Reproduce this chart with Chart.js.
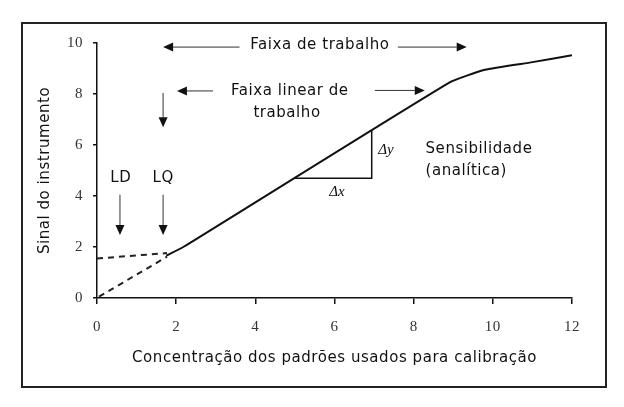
<!DOCTYPE html>
<html lang="pt">
<head>
    <meta charset="UTF-8">
    <title>Curva de calibração</title>
    <script src="https://cdn.jsdelivr.net/npm/chart.js"></script>
    <style>
        html, body { margin: 0; padding: 0; background: #fff; }
        #wrap { width: 624px; height: 407px; }
    </style>
</head>
<body>
    <div id="wrap"><canvas id="calCanvas" width="624" height="407"></canvas></div>

    <script>
        // curva de resposta do instrumento
        const curveX = [1.75, 2.2, 8.9, 9.8, 11.0, 12.0];
        const curveY = [1.66, 2.02, 8.45, 8.95, 9.25, 9.52];

        // extrapolações tracejadas (LD e LQ)
        const originX = [0.05, 1.77];
        const originY = [0.05, 1.62];
        const blankX = [0.0, 1.77];
        const blankY = [1.55, 1.76];

        // triângulo da sensibilidade
        const slopeX = [5.0, 6.94, 6.94];
        const slopeY = [4.7, 4.7, 6.55];

        const xTicks = [0, 2, 4, 6, 8, 10, 12];
        const yTicks = [0, 2, 4, 6, 8, 10];

        const toPoints = (xs, ys) => xs.map((x, i) => ({ x: x, y: ys[i] }));

        // setas e textos (coordenadas em unidades dos eixos)
        const arrows = [
            { from: [3.6, 9.84], to: [1.67, 9.84] },
            { from: [7.6, 9.84], to: [9.34, 9.84] },
            { from: [2.93, 8.12], to: [2.02, 8.12] },
            { from: [7.02, 8.14], to: [8.28, 8.14] },
            { from: [1.67, 8.04], to: [1.67, 6.7] },
            { from: [0.58, 4.05], to: [0.58, 2.47] },
            { from: [1.67, 4.05], to: [1.67, 2.47] }
        ];
        const labels = [
            { text: 'Faixa de trabalho', x: 5.63, y: 9.9, align: 'center' },
            { text: 'Faixa linear de', x: 4.87, y: 8.12, align: 'center' },
            { text: 'trabalho', x: 4.8, y: 7.25, align: 'center' },
            { text: 'LD', x: 0.6, y: 4.7, align: 'center' },
            { text: 'LQ', x: 1.67, y: 4.7, align: 'center' },
            { text: 'Sensibilidade', x: 8.3, y: 5.84, align: 'left' },
            { text: '(analítica)', x: 8.3, y: 4.98, align: 'left' }
        ];
        const deltas = [
            { text: 'Δx', x: 6.06, y: 4.16 },
            { text: 'Δy', x: 7.3, y: 5.8 }
        ];

        const sansFont = '"DejaVu Sans", Verdana, sans-serif';
        const serifFont = '"Liberation Serif", "Times New Roman", serif';
        const spacing = '0.55px';

        const framePlugin = {
            id: 'frame',
            beforeDraw(chart) {
                const ctx = chart.ctx;
                ctx.save();
                ctx.fillStyle = '#fff';
                ctx.fillRect(0, 0, chart.width, chart.height);
                ctx.strokeStyle = '#222';
                ctx.lineWidth = 2;
                ctx.strokeRect(22, 23, 584, 364);
                ctx.restore();
                ctx.letterSpacing = spacing; // texto um pouco espaçado, como no original
            }
        };

        const notesPlugin = {
            id: 'notes',
            afterDatasetsDraw(chart) {
                const ctx = chart.ctx;
                const xs = chart.scales.x, ys = chart.scales.y;
                ctx.save();
                ctx.strokeStyle = '#333';
                ctx.fillStyle = '#111';
                ctx.lineWidth = 1;
                arrows.forEach(a => {
                    const x1 = xs.getPixelForValue(a.from[0]), y1 = ys.getPixelForValue(a.from[1]);
                    const x2 = xs.getPixelForValue(a.to[0]), y2 = ys.getPixelForValue(a.to[1]);
                    const ang = Math.atan2(y2 - y1, x2 - x1);
                    const len = 10, half = 4.5;
                    ctx.beginPath();
                    ctx.moveTo(x1, y1);
                    ctx.lineTo(x2 - Math.cos(ang) * len, y2 - Math.sin(ang) * len);
                    ctx.stroke();
                    ctx.beginPath();
                    ctx.moveTo(x2, y2);
                    ctx.lineTo(x2 - Math.cos(ang) * len - Math.sin(ang) * half, y2 - Math.sin(ang) * len + Math.cos(ang) * half);
                    ctx.lineTo(x2 - Math.cos(ang) * len + Math.sin(ang) * half, y2 - Math.sin(ang) * len - Math.cos(ang) * half);
                    ctx.closePath();
                    ctx.fill();
                });

                ctx.fillStyle = '#111';
                ctx.textBaseline = 'middle';
                ctx.letterSpacing = spacing;
                ctx.font = '15px ' + sansFont;
                labels.forEach(l => {
                    ctx.textAlign = l.align;
                    ctx.fillText(l.text, xs.getPixelForValue(l.x), ys.getPixelForValue(l.y));
                });
                ctx.letterSpacing = '0px';
                ctx.font = 'italic 15px ' + serifFont;
                ctx.textAlign = 'center';
                deltas.forEach(d => {
                    ctx.fillText(d.text, xs.getPixelForValue(d.x), ys.getPixelForValue(d.y));
                });
                ctx.restore();
            }
        };

        const ctx = document.getElementById('calCanvas').getContext('2d');

        new Chart(ctx, {
            type: 'scatter',
            data: {
                datasets: [
                    {
                        label: 'Resposta',
                        data: toPoints(curveX, curveY),
                        showLine: true,
                        borderColor: '#111',
                        borderWidth: 2,
                        pointRadius: 0,
                        tension: 0.15
                    },
                    {
                        label: 'Extrapolação (origem)',
                        data: toPoints(originX, originY),
                        showLine: true,
                        borderColor: '#222',
                        borderWidth: 2,
                        borderDash: [6, 5],
                        pointRadius: 0
                    },
                    {
                        label: 'Extrapolação (branco)',
                        data: toPoints(blankX, blankY),
                        showLine: true,
                        borderColor: '#222',
                        borderWidth: 2,
                        borderDash: [6, 5],
                        pointRadius: 0
                    },
                    {
                        label: 'Sensibilidade',
                        data: toPoints(slopeX, slopeY),
                        showLine: true,
                        borderColor: '#111',
                        borderWidth: 1.5,
                        pointRadius: 0
                    }
                ]
            },
            options: {
                responsive: false,
                animation: false,
                layout: { padding: { top: 43, right: 52, left: 0, bottom: 0 } },
                plugins: {
                    legend: { display: false },
                    tooltip: { enabled: false }
                },
                scales: {
                    x: {
                        type: 'linear',
                        min: 0,
                        max: 12,
                        afterFit: s => { s.height = 109; },
                        afterBuildTicks: s => { s.ticks = xTicks.map(v => ({ value: v })); },
                        ticks: { color: '#333', font: { family: serifFont, size: 15 }, padding: 14 },
                        grid: { drawOnChartArea: false, tickLength: 6, color: '#111', lineWidth: 1.5 },
                        border: { color: '#111', width: 1.5 },
                        title: {
                            display: true,
                            text: 'Concentração dos padrões usados para calibração',
                            color: '#111',
                            font: { family: sansFont, size: 15 },
                            padding: { top: 0, bottom: 40 }
                        }
                    },
                    y: {
                        type: 'linear',
                        min: 0,
                        max: 10,
                        afterFit: s => { s.width = 97; },
                        afterBuildTicks: s => { s.ticks = yTicks.map(v => ({ value: v })); },
                        ticks: { color: '#333', font: { family: serifFont, size: 15 }, padding: 10 },
                        grid: { drawOnChartArea: false, tickLength: 4, color: '#111', lineWidth: 1.5 },
                        border: { color: '#111', width: 1.5 },
                        title: {
                            display: true,
                            text: 'Sinal do instrumento',
                            color: '#111',
                            font: { family: sansFont, size: 15 },
                            padding: { top: 36, bottom: 0 }
                        }
                    }
                }
            },
            plugins: [framePlugin, notesPlugin]
        });
    </script>
</body>
</html>
